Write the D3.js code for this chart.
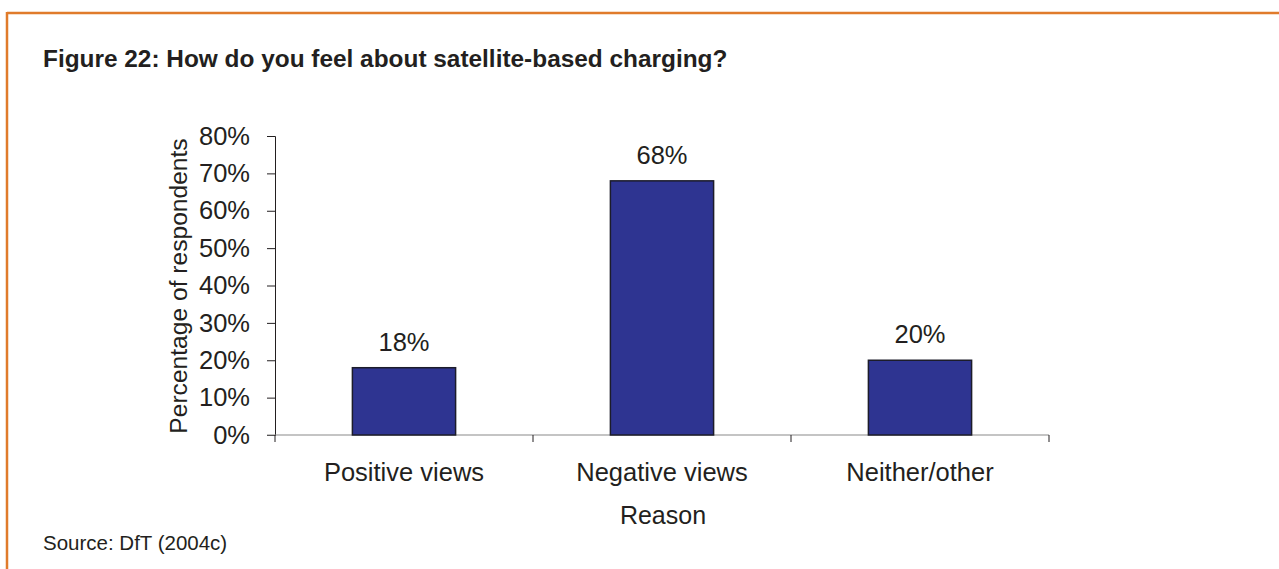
<!DOCTYPE html>
<html><head><meta charset="utf-8">
<script src="https://cdn.jsdelivr.net/npm/d3@7"></script>
<style>body{margin:0;background:#fff;}svg{display:block;}text{font-family:"Liberation Sans",Arial,sans-serif;fill:#231f20;}</style>
</head><body>
<script>
const categories = ["Positive views", "Negative views", "Neither/other"];
const values = [18, 68, 20];
const valueLabels = ["18%", "68%", "20%"];
const yTicks = [0, 10, 20, 30, 40, 50, 60, 70, 80];
const titleText = "Figure 22: How do you feel about satellite-based charging?";
const yTitle = "Percentage of respondents";
const xTitle = "Reason";
const sourceText = "Source: DfT (2004c)";

(function () {
const W = 1279, H = 569;
const svg = d3.select("body").append("svg").attr("width", W).attr("height", H);

// orange frame
svg.append("line").attr("x1", 7).attr("x2", W).attr("y1", 13).attr("y2", 13)
  .attr("stroke", "#e07b2b").attr("stroke-width", 2.5);
svg.append("line").attr("x1", 7).attr("x2", 7).attr("y1", 12).attr("y2", H)
  .attr("stroke", "#e07b2b").attr("stroke-width", 2.5);

svg.append("text").attr("x", 43).attr("y", 67).attr("font-size", 24.4).attr("font-weight", "bold")
  .attr("fill", "#1e1e1e").text(titleText);

const pLeft = 275, pRight = 1049, pTop = 136, pBottom = 435;
const x = d3.scaleBand().domain(categories).range([pLeft, pRight]).paddingInner(0.6).paddingOuter(0.3);
const y = d3.scaleLinear().domain([0, 80]).range([pBottom, pTop]);

// y axis
const yAxis = d3.axisLeft(y).tickValues(yTicks).tickFormat(d => d + "%").tickSize(8).tickPadding(17);
const gy = svg.append("g").attr("transform", `translate(${pLeft},0)`).call(yAxis);
gy.select(".domain").attr("stroke", "#231f20").attr("stroke-width", 1);
gy.selectAll(".tick line").attr("stroke", "#231f20");
gy.selectAll(".tick text").attr("font-size", 25.5).attr("fill", "#231f20")
  .attr("font-family", "Liberation Sans, Arial, sans-serif");

// x axis line with boundary ticks
const step = x.step();
const boundaries = d3.range(categories.length + 1).map(i => pLeft + i * step);
svg.append("line").attr("x1", pLeft - 8).attr("x2", pRight).attr("y1", pBottom).attr("y2", pBottom)
  .attr("stroke", "#8a8a8a").attr("stroke-width", 1.2);
svg.selectAll(".xb").data(boundaries).join("line")
  .attr("x1", d => d).attr("x2", d => d).attr("y1", pBottom).attr("y2", pBottom + 7)
  .attr("stroke", "#231f20").attr("stroke-width", 1);

// bars
svg.selectAll(".bar").data(values).join("rect")
  .attr("x", (d, i) => x(categories[i]))
  .attr("width", x.bandwidth())
  .attr("y", d => y(d))
  .attr("height", d => pBottom - y(d))
  .attr("fill", "#2e3491").attr("stroke", "#1c1c2a").attr("stroke-width", 1.5);

svg.selectAll(".vl").data(values).join("text")
  .attr("x", (d, i) => x(categories[i]) + x.bandwidth() / 2)
  .attr("y", d => y(d) - 17)
  .attr("text-anchor", "middle").attr("font-size", 25.5)
  .text((d, i) => valueLabels[i]);

svg.selectAll(".cl").data(categories).join("text")
  .attr("x", d => x(d) + x.bandwidth() / 2).attr("y", 481)
  .attr("text-anchor", "middle").attr("font-size", 25.5).text(d => d);

svg.append("text").attr("x", (pLeft + pRight) / 2 + 1).attr("y", 524)
  .attr("text-anchor", "middle").attr("font-size", 25).text(xTitle);

svg.append("text").attr("transform", `translate(187,286) rotate(-90)`)
  .attr("text-anchor", "middle").attr("font-size", 24.6).text(yTitle);

svg.append("text").attr("x", 43).attr("y", 550).attr("font-size", 20.5).text(sourceText);
})();
</script>
</body></html>
